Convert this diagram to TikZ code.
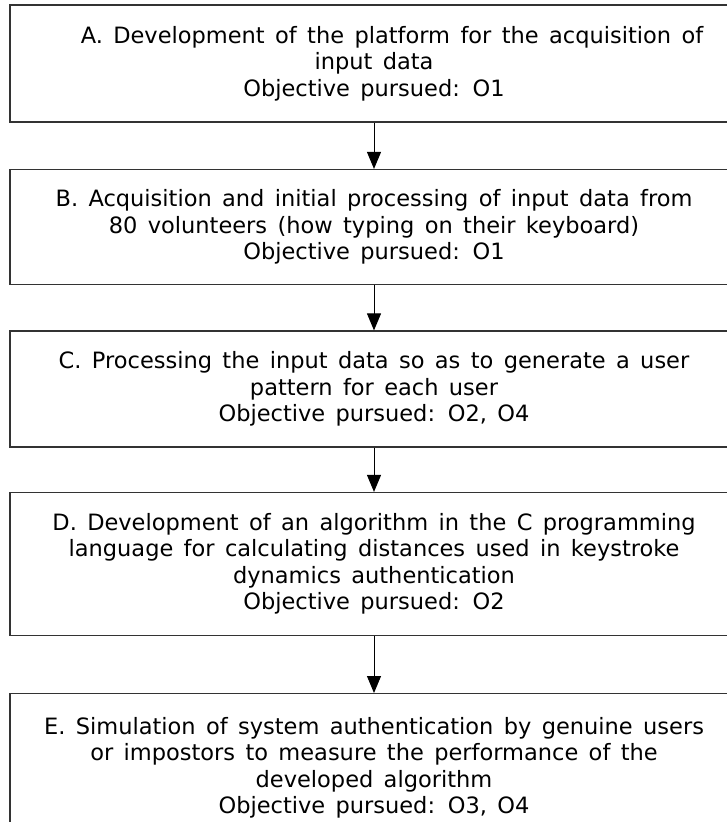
\documentclass[tikz,border=0pt]{standalone}
\usepackage{fontspec}
\setmainfont[WordSpace=1.45]{DejaVu Sans}
\usetikzlibrary{arrows.meta}
\begin{document}
\begin{tikzpicture}[x=1pt,y=-1pt,
  stepbox/.style={draw=black!80,line width=1.2pt,minimum width=728pt,inner sep=0pt,
    align=center,font=\fontsize{22.5}{26.5}\selectfont,text=black},
  flow/.style={draw=black,line width=1pt,-{Triangle[width=14pt,length=17pt]}}]
\useasboundingbox (0,0) rectangle (727,822);
\node[stepbox,minimum height=117pt] (A) at (374,63.5) {\hspace*{36pt}A. Development of the platform for the acquisition of\\input data\\Objective pursued: O1};
\node[stepbox,minimum height=115pt] (B) at (374,227) {B. Acquisition and initial processing of input data from\\80 volunteers (how typing on their keyboard)\\Objective pursued: O1};
\node[stepbox,minimum height=116pt] (C) at (374,389) {C. Processing the input data so as to generate a user\\pattern for each user\\Objective pursued: O2, O4};
\node[stepbox,minimum height=143pt] (D) at (374,564) {D. Development of an algorithm in the C programming\\language for calculating distances used in keystroke\\dynamics authentication\\Objective pursued: O2};
\node[stepbox,minimum height=148pt,anchor=north] (E) at (374,693) {E. Simulation of system authentication by genuine users\\or impostors to measure the performance of the\\developed algorithm\\Objective pursued: O3, O4};
\draw[flow] (A.south) -- (B.north);
\draw[flow] (B.south) -- (C.north);
\draw[flow] (C.south) -- (D.north);
\draw[flow] (D.south) -- (E.north);
\end{tikzpicture}
\end{document}
